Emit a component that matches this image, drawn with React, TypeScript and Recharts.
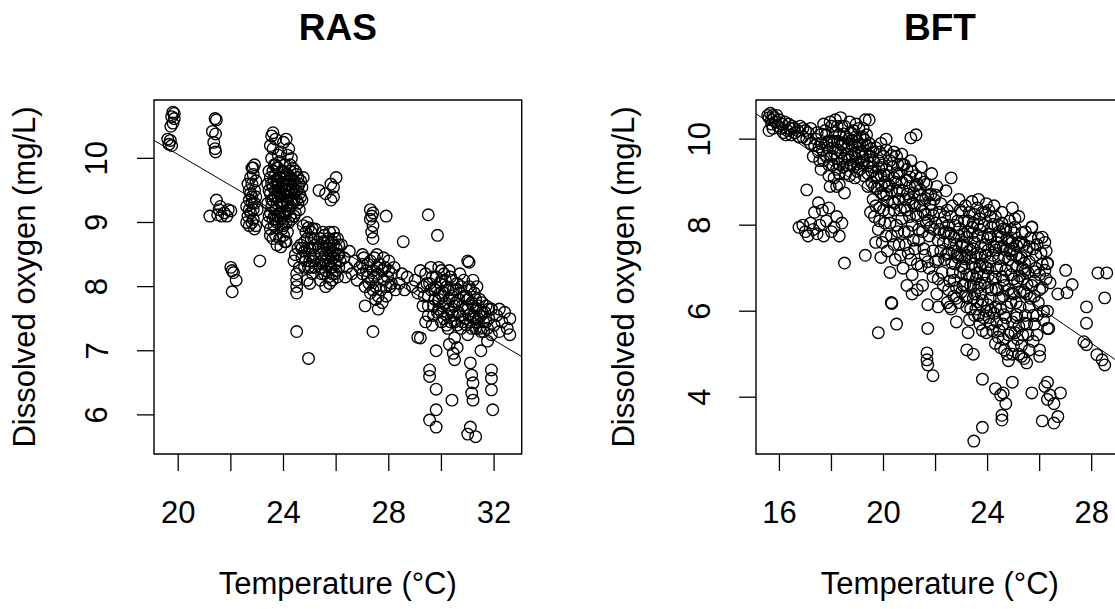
import React from "react";
import { ScatterChart, Scatter, XAxis, YAxis, ReferenceLine, ReferenceArea } from "recharts";

// ---------- RAS panel data: [temperature °C, dissolved oxygen mg/L] ----------
const RAS_POINTS: [number, number][] = [
  [19.6,10.3],[19.65,10.22],[19.7,10.28],[19.75,10.2],[19.8,10.72],[19.75,10.65],[19.85,10.62],[19.8,10.55],[19.72,10.5],[19.85,10.7],
  [21.4,10.62],[21.45,10.6],[21.3,10.42],[21.42,10.38],[21.35,10.25],[21.4,10.15],[21.42,10.1],
  [21.2,9.1],[21.45,9.35],[21.55,9.2],[21.75,9.15],[21.9,9.2],[21.65,9.1],[22.0,9.18],[21.5,9.12],[21.6,9.25],[21.85,9.1],
  [22.0,8.3],[22.05,8.25],[22.1,8.22],[22.2,8.1],[22.05,7.92],[23.1,8.4],
  [22.6,9.0],[22.65,9.1],[22.7,9.2],[22.8,9.3],[22.75,9.45],[22.8,9.6],[22.85,9.75],[22.8,9.85],[22.9,9.9],[22.75,9.15],[22.85,9.05],[22.95,8.95],[22.7,9.35],[22.9,9.5],[22.95,9.65],[23.0,9.2],[22.6,9.25],[22.9,8.9],
  [23.4,9.0],[23.4,9.3],[23.4,9.6],[23.45,9.8],[23.5,8.9],[23.5,9.15],[23.5,9.45],[23.5,9.7],[23.55,10.0],[23.6,9.05],[23.6,9.35],[23.6,9.55],[23.65,9.9],[23.7,8.8],[23.7,9.2],[23.7,9.5],[23.7,9.75],[23.75,9.0],[23.8,9.4],[23.8,9.6],[23.8,9.85],[23.85,8.75],[23.85,9.15],[23.9,9.3],[23.9,9.55],[23.9,9.7],[23.95,8.9],[24.0,9.1],[24.0,9.45],[24.0,9.6],[24.0,9.8],[24.05,8.7],[24.1,9.0],[24.1,9.35],[24.1,9.5],[24.1,9.7],[24.15,8.85],[24.2,9.2],[24.2,9.4],[24.2,9.6],[24.25,9.8],[24.3,9.05],[24.3,9.5],[24.35,9.3],[24.4,9.65],[24.4,9.45],[24.45,9.15],[24.5,9.5],[24.5,9.75],[24.55,9.3],[24.6,9.6],[24.65,9.4],[24.7,9.55],[24.75,9.7],[23.55,9.25],[23.65,8.95],[23.95,9.25],[24.25,9.25],[24.6,9.2],[23.75,9.65],[24.35,9.85],
  [23.5,10.2],[23.55,10.35],[23.6,10.4],[23.7,10.3],[23.6,10.15],[23.9,10.1],[24.0,10.25],[24.1,10.3],[24.15,10.05],[24.3,10.0],[24.2,10.15],[23.8,10.05],
  [23.6,8.75],[23.75,8.65],[23.9,8.62],[24.0,8.8],[24.1,8.7],[23.5,8.8],
  [24.4,8.4],[24.45,8.5],[24.5,8.0],[24.5,8.1],[24.5,8.2],[24.55,8.6],[24.6,8.3],[24.5,7.9],[24.7,8.45],[24.8,8.55],[24.8,8.7],[24.85,8.85],[24.9,9.0],[24.95,8.3],[25.0,8.4],[25.0,8.6],[25.05,8.75],[25.1,8.9],[25.1,8.2],[25.15,8.5],[25.2,8.65],[24.9,8.1],[25.0,8.05],[25.2,8.3],[24.75,8.95],[24.65,8.65],[24.95,8.92],
  [25.4,8.1],[25.4,8.3],[25.45,8.5],[25.5,8.7],[25.5,8.85],[25.55,8.2],[25.6,8.4],[25.65,8.6],[25.7,8.75],[25.75,8.05],[25.8,8.3],[25.8,8.5],[25.85,8.7],[25.9,8.85],[25.95,8.2],[26.0,8.4],[26.0,8.6],[26.05,8.75],[26.1,8.3],[26.1,8.5],[25.6,8.0],[25.85,8.1],[26.2,8.65],[25.35,8.6],[25.7,8.45],
  [25.35,9.5],[25.6,9.45],[26.0,9.7],[25.8,9.35],[25.9,9.55],[25.8,9.6],[25.9,9.4],
  [24.5,7.3],[24.95,6.88],
  [26.3,8.45],[26.4,8.3],[26.5,8.55],[26.6,8.2],[26.7,8.4],[26.35,8.15],
  [27.3,9.2],[27.35,9.1],[27.3,9.05],[27.4,8.95],[27.35,8.85],[27.4,8.75],[27.9,9.1],[27.4,9.15],
  [29.5,9.12],[29.85,8.8],[28.55,8.7],[31.0,8.4],[31.05,8.38],[27.4,7.3],
  [26.8,8.1],[26.9,8.3],[27.0,8.2],[27.05,8.45],[27.1,8.0],[27.2,8.15],[27.2,8.35],[27.3,7.9],[27.35,8.1],[27.4,8.25],[27.45,8.45],[27.5,7.8],[27.5,8.0],[27.6,8.2],[27.65,8.35],[27.7,7.95],[27.8,8.1],[27.85,8.3],[27.9,7.85],[27.95,8.15],[28.0,8.4],[28.05,8.0],[28.1,8.2],[28.2,8.3],[28.25,7.95],[27.1,7.7],[27.6,7.65],[27.0,8.5],[27.55,8.5],
  [28.4,8.05],[28.6,7.95],[28.7,8.15],[28.9,8.0],[28.5,8.2],
  [29.0,8.1],[29.1,7.9],[29.2,8.25],[29.3,7.7],[29.3,8.0],[29.4,8.2],[29.5,7.55],[29.5,7.85],[29.55,8.05],[29.6,8.3],[29.65,7.4],[29.7,7.7],[29.75,7.95],[29.8,8.15],[29.85,7.6],[29.9,7.8],[29.95,8.05],[30.0,7.45],[30.0,8.25],[30.05,7.7],[30.1,7.9],[30.15,8.1],[30.2,7.55],[30.2,8.0],[30.25,7.35],[30.3,7.8],[30.35,8.15],[30.4,7.6],[30.45,7.95],[30.5,7.2],[30.5,7.45],[30.55,7.75],[30.6,8.05],[30.65,7.6],[30.7,7.9],[30.75,7.35],[30.8,7.7],[30.85,8.1],[30.9,7.5],[30.95,7.85],[31.0,7.25],[31.0,7.65],[31.05,8.0],[31.1,7.45],[31.15,7.75],[31.2,7.55],[31.25,7.9],[31.3,7.35],[31.35,7.65],[31.4,7.5],[31.45,7.8],[31.5,7.3],[31.55,7.6],[31.6,7.45],[31.7,7.7],[31.8,7.5],[31.9,7.65],[32.0,7.4],[32.1,7.55],[32.2,7.3],[32.3,7.45],[32.4,7.6],[32.5,7.35],[32.6,7.5],[32.2,7.65],[31.9,7.25],[29.4,7.45],[30.3,7.1],[29.2,7.2],[31.75,7.15],
  [29.1,7.21],[29.8,7.0],[29.55,6.7],[29.55,6.6],[29.8,6.4],[29.8,6.08],[29.55,5.92],[29.8,5.81],[30.4,6.23],[30.5,6.86],[30.45,6.96],[31.1,6.81],[31.15,6.62],[31.2,6.5],[31.15,6.34],[31.2,6.23],[31.1,5.81],[31.0,5.7],[31.3,5.66],[31.9,6.7],[31.9,6.57],[31.9,6.39],[31.95,6.08],[30.6,7.05],[31.5,7.0],[32.6,7.25],
];

// additional readings in the densest RAS clusters
const RAS_DENSE: [number, number][] = [
  [23.45,9.1],[23.45,9.5],[23.55,9.6],[23.6,9.8],[23.65,9.1],[23.65,9.4],[23.7,9.05],[23.75,9.3],[23.75,9.85],[23.8,9.1],[23.8,9.5],[23.85,9.7],[23.85,9.95],[23.9,9.05],[23.9,9.4],[23.95,9.6],[23.95,9.8],[24.0,8.95],[24.0,9.3],[24.05,9.5],[24.05,9.7],[24.05,9.9],[24.1,9.15],[24.1,9.6],[24.15,9.4],[24.15,9.75],[24.2,9.0],[24.2,9.5],[24.25,9.65],[24.25,9.9],[24.3,9.35],[24.3,9.7],[24.35,9.55],[24.4,9.1],[24.4,9.35],[24.45,9.6],[24.45,9.8],[24.5,9.35],[24.55,9.55],[24.55,9.7],[24.6,9.45],[24.65,9.65],[24.7,9.35],[23.7,9.9],[23.55,9.35],[23.85,9.45],[24.15,9.3],[23.95,9.0],[24.25,9.1],[23.65,9.65],
  [24.85,8.4],[24.9,8.6],[24.9,8.75],[25.0,8.5],[25.05,8.3],[25.05,8.85],[25.1,8.6],[25.15,8.4],[25.15,8.75],[25.2,8.9],[24.8,8.3],[24.7,8.6],
  [25.45,8.2],[25.45,8.4],[25.5,8.6],[25.55,8.8],[25.6,8.5],[25.6,8.25],[25.65,8.7],[25.7,8.15],[25.7,8.35],[25.75,8.6],[25.75,8.85],[25.8,8.4],[25.85,8.55],[25.85,8.2],[25.9,8.45],[25.9,8.65],[25.95,8.35],[25.95,8.75],[26.0,8.25],[26.05,8.5],[26.05,8.15],[26.1,8.65],[26.15,8.4],[25.5,8.35],[25.4,8.75],
  [22.7,9.5],[22.75,9.7],[22.8,9.4],[22.85,9.2],[22.9,9.3],[22.65,9.6],[22.8,9.0],[22.95,9.4],[22.7,8.95],[22.85,9.85],
  [29.35,7.85],[29.45,8.05],[29.5,7.7],[29.6,7.95],[29.65,8.15],[29.7,7.55],[29.75,7.8],[29.8,8.0],[29.9,7.65],[29.95,7.9],[30.0,7.6],[30.0,8.1],[30.05,7.85],[30.1,7.5],[30.1,8.2],[30.15,7.75],[30.2,7.4],[30.25,7.95],[30.3,7.65],[30.35,7.45],[30.4,7.85],[30.4,8.1],[30.45,7.55],[30.5,7.7],[30.55,7.95],[30.6,7.4],[30.65,7.8],[30.7,7.55],[30.75,8.0],[30.8,7.45],[30.85,7.85],[30.9,7.65],[30.95,7.4],[31.0,7.8],[31.05,7.55],[31.1,7.95],[31.15,7.35],[31.2,7.7],[31.25,7.5],[31.3,7.8],[31.35,7.45],[31.4,7.7],[31.45,7.35],[31.5,7.55],[31.55,7.75],[31.6,7.3],[31.65,7.6],[31.7,7.45],[31.75,7.35],[31.8,7.65],[30.3,8.25],[29.9,8.3],[30.7,8.2],[31.2,8.1],[31.35,8.0],
  [27.0,8.35],[27.15,8.25],[27.25,8.05],[27.3,8.4],[27.45,8.15],[27.55,8.3],[27.6,7.85],[27.75,8.25],[27.8,8.45],[27.9,8.0],[28.0,8.25],[28.1,8.05],[27.4,7.95],[27.75,7.75],
];

// ---------- BFT panel data ----------
const BFT_POINTS: [number, number][] = [
  [15.55,10.55],[15.6,10.5],[15.65,10.6],[15.7,10.45],[15.75,10.55],[15.8,10.5],[15.7,10.35],[15.6,10.2],[15.85,10.4],[15.9,10.55],[16.0,10.45],[16.1,10.35],[16.2,10.4],[16.3,10.2],[16.25,10.1],[16.5,10.3],[16.6,10.15],[16.8,10.3],[17.0,10.2],[17.1,10.15],[16.9,10.05],[16.4,10.25],[15.95,10.3],
  [17.4,10.0],[17.5,9.7],[17.6,9.9],[17.7,9.5],[17.8,10.1],[17.85,9.8],[17.9,9.4],[18.0,10.3],[18.0,9.6],[18.1,9.95],[18.15,10.45],[18.2,9.3],[18.25,9.75],[18.3,10.1],[18.35,10.5],[18.4,9.5],[18.45,9.9],[18.5,10.3],[18.55,9.2],[18.6,9.65],[18.65,10.0],[18.7,10.4],[18.75,9.4],[18.8,9.85],[18.85,10.2],[18.9,9.1],[18.95,9.55],[19.0,9.95],[19.05,10.25],[19.1,9.3],[19.15,9.7],[19.2,10.05],[19.3,10.45],[19.45,10.45],[19.25,9.5],[19.35,9.85],[19.4,9.2],[17.3,9.6],[17.2,9.9],[17.7,10.35],[18.1,9.1],[17.95,8.9],[17.6,9.3],[18.3,8.95],[18.5,8.75],
  [16.75,7.95],[16.9,8.0],[17.0,7.85],[17.1,7.75],[17.2,8.05],[17.3,7.9],[17.45,7.8],[17.55,8.0],[17.7,7.75],[17.8,8.1],[18.0,7.85],[18.1,7.95],[18.2,8.2],[17.05,8.82],[17.5,8.52],[17.35,8.3],[17.65,8.35],[18.3,7.75],[18.5,7.12],[19.3,7.3],[18.4,8.05],[17.9,8.4],
  [19.5,9.6],[19.55,9.0],[19.6,8.6],[19.6,9.35],[19.65,8.2],[19.7,9.8],[19.75,8.85],[19.8,7.9],[19.8,9.5],[19.85,8.4],[19.9,9.15],[19.95,7.6],[20.0,8.7],[20.0,9.6],[20.05,8.05],[20.1,9.3],[20.15,7.4],[20.15,8.9],[20.2,8.3],[20.25,9.5],[20.3,7.75],[20.35,8.55],[20.4,9.1],[20.45,7.2],[20.5,8.0],[20.5,8.8],[20.55,9.4],[20.6,7.55],[20.65,8.35],[20.7,9.0],[20.75,7.0],[20.8,7.85],[20.85,8.6],[20.9,9.3],[20.95,7.35],[21.0,8.2],[21.0,8.9],[21.05,9.5],[21.1,6.85],[21.15,7.65],[21.2,8.45],[21.25,9.15],[21.3,7.1],[21.35,7.9],[21.4,8.7],[21.45,9.35],[21.5,6.6],[21.55,7.45],[21.6,8.25],[21.65,8.95],[21.7,7.15],[21.75,7.75],[21.8,8.5],[21.85,9.2],[21.9,6.8],[21.95,7.9],[22.0,8.7],[19.4,8.9],[19.5,8.3],[19.7,7.6],[20.25,6.9],[19.9,7.25],[22.6,9.1],[21.05,10.03],[21.25,10.1],[20.7,9.65],[20.4,9.7],[19.9,9.9],[20.1,10.0],
  [22.05,6.4],[22.1,7.2],[22.15,7.9],[22.2,8.5],[22.25,6.9],[22.3,7.6],[22.35,8.2],[22.4,8.8],[22.45,6.2],[22.5,7.35],[22.5,8.0],
  [22.55,6.7],[22.6,7.8],[22.65,8.45],[22.7,6.35],[22.75,7.1],[22.8,7.55],[22.85,8.1],[22.9,8.6],[22.95,6.9],[23.0,7.3],[23.0,8.3],[22.6,6.05],[22.9,6.2],
  [23.05,6.6],[23.1,7.0],[23.1,7.8],[23.15,8.45],[23.2,6.1],[23.2,7.5],[23.25,8.1],[23.3,5.8],[23.3,6.85],[23.35,7.25],[23.4,7.95],[23.4,8.55],[23.45,6.3],[23.5,5.9],[23.5,7.6],[23.5,8.25],[23.25,5.5],[23.45,6.6],
  [23.55,6.05],[23.6,6.9],[23.6,7.35],[23.65,8.6],[23.7,5.7],[23.7,7.9],[23.75,6.4],[23.8,7.1],[23.8,8.3],[23.85,5.85],[23.9,6.65],[23.9,7.55],[23.95,8.5],[24.0,6.15],[24.0,7.0],[23.95,5.5],[23.75,6.15],
  [24.05,7.8],[24.1,5.7],[24.1,8.2],[24.15,6.5],[24.2,7.3],[24.25,5.95],[24.25,8.45],[24.3,6.8],[24.35,7.6],[24.4,5.4],[24.4,8.0],[24.45,6.3],[24.5,7.05],[24.5,5.15],[24.45,7.85],[24.3,5.25],
  [24.55,8.3],[24.6,5.7],[24.6,7.5],[24.65,6.6],[24.7,7.9],[24.75,5.0],[24.75,6.1],[24.8,7.2],[24.85,8.1],[24.9,5.5],[24.9,6.85],[24.95,7.6],[25.0,5.2],[25.0,6.4],[24.8,4.85],[24.95,8.4],
  [25.05,7.95],[25.1,5.85],[25.1,7.3],[25.15,6.7],[25.2,5.0],[25.2,8.2],[25.25,6.1],[25.3,7.6],[25.35,5.45],[25.35,7.0],[25.4,6.45],[25.45,7.85],[25.5,4.8],[25.5,5.7],[25.4,4.9],
  [25.55,6.9],[25.6,7.5],[25.65,6.3],[25.7,7.95],[25.75,5.3],[25.8,6.7],[25.85,7.3],[25.9,5.9],[25.95,7.7],[26.0,6.5],[26.0,5.1],[26.1,7.1],[26.15,6.0],[26.2,7.6],[26.25,6.75],[26.3,7.1],[26.35,5.6],[26.3,6.0],
  [19.8,5.5],[20.3,6.2],[20.32,6.18],[20.5,5.7],[21.7,5.6],[21.67,5.03],[21.67,4.87],[21.7,4.75],[21.9,4.5],[21.3,6.5],[21.7,6.15],[22.1,6.1],[22.55,6.1],[22.8,6.3],[22.8,5.75],[23.2,5.1],[23.45,5.0],[20.9,6.6],[21.1,6.4],
  [23.8,4.42],[24.3,4.2],[24.5,4.05],[24.6,4.1],[24.7,3.85],[24.95,4.35],[24.55,3.58],[24.55,3.47],[23.8,3.3],[23.47,2.98],[25.7,4.1],[26.2,4.25],[26.3,3.95],[26.55,3.85],[26.8,4.1],[26.3,4.35],[26.1,3.45],[26.55,3.4],[26.7,3.55],[26.4,4.05],
  [27.05,6.43],[27.25,6.62],[27.8,6.1],[28.5,6.31],[27.8,5.72],[28.24,6.89],[28.58,6.89],[27.7,5.29],[27.8,5.22],[28.2,4.99],[28.4,4.87],[28.5,4.75],[26.3,5.6],[25.8,5.7],[26.4,6.66],[26.3,7.12],[26.1,7.72],[25.7,7.96],[27.0,6.95],[26.7,6.4],
];

// additional readings in the densest BFT band
const BFT_DENSE: [number, number][] = [
  [17.35,9.85],[17.45,10.15],[17.55,9.5],[17.65,9.75],[17.75,10.2],[17.8,9.6],[17.9,9.95],[17.95,10.4],[18.05,9.4],[18.05,9.8],[18.15,10.15],[18.2,9.55],[18.25,9.95],[18.3,9.2],[18.35,9.7],[18.4,10.3],[18.45,9.35],[18.5,9.55],[18.55,10.05],[18.6,9.4],[18.65,9.85],[18.7,9.15],[18.75,10.15],[18.8,9.6],[18.85,9.35],[18.9,9.85],[18.95,10.35],[19.0,9.25],[19.05,9.7],[19.1,10.05],[19.15,9.45],[19.2,9.85],[19.25,9.15],[19.3,9.65],[19.35,10.1],[19.45,9.45],[19.45,9.9],[17.9,9.15],[18.2,8.9],
  [16.05,10.25],[16.15,10.15],[16.35,10.35],[16.45,10.1],[16.55,10.25],[16.7,10.2],[16.75,10.05],[16.9,10.25],[17.05,10.0],[17.2,10.25],[15.75,10.25],
  [19.55,9.25],[19.6,9.7],[19.65,8.9],[19.7,8.45],[19.75,9.15],[19.85,9.7],[19.85,8.1],[19.9,8.75],[19.95,9.4],[20.0,8.35],[20.05,9.0],[20.1,7.75],[20.1,9.75],[20.15,8.55],[20.2,9.15],[20.25,8.05],[20.3,8.8],[20.35,9.35],[20.4,7.55],[20.4,8.35],[20.45,9.0],[20.5,9.6],[20.55,7.85],[20.6,8.6],[20.6,9.2],[20.65,7.3],[20.7,8.15],[20.75,8.8],[20.8,9.4],[20.85,7.55],[20.9,8.35],[20.9,9.05],[20.95,7.85],[21.0,8.6],[21.05,7.2],[21.1,8.0],[21.1,9.25],[21.15,8.75],[21.2,7.45],[21.25,8.25],[21.3,8.95],[21.35,7.65],[21.4,8.45],[21.4,9.1],[21.45,7.05],[21.5,7.85],[21.5,8.6],[21.55,9.0],[21.6,7.3],[21.65,8.05],[21.7,8.7],[21.75,7.0],[21.8,7.95],[21.85,8.35],[21.9,7.4],[21.95,8.6],[22.0,7.15],[22.0,8.05],[22.05,8.9],[22.1,7.65],[22.15,8.3],[22.1,6.75],
  [22.2,7.4],[22.25,8.05],[22.3,6.6],[22.35,7.2],[22.4,7.85],[22.45,8.35],[22.5,6.5],[22.55,7.6],[22.6,8.2],[22.65,6.9],[22.7,7.4],[22.75,8.0],[22.8,6.55],[22.85,7.25],[22.9,7.75],[22.95,8.35],[23.0,6.45],[23.0,7.05],[23.05,7.6],[23.1,8.1],[23.15,6.35],[23.2,6.85],[23.2,7.3],[23.25,7.85],[23.3,8.3],[23.35,6.05],[23.35,6.6],[23.4,7.1],[23.45,7.45],[23.45,8.05],[23.5,6.4],[23.55,6.75],[23.55,7.25],[23.6,7.75],[23.6,8.4],[23.65,5.9],[23.65,6.55],[23.7,7.05],[23.7,8.15],[23.75,7.5],[23.8,5.55],[23.8,6.25],[23.85,6.85],[23.85,8.0],[23.9,7.3],[23.9,8.3],[23.95,6.0],[24.0,6.55],[24.0,7.7],[24.05,8.35],[24.05,5.85],[24.1,6.3],[24.1,7.15],[24.15,7.95],[24.2,5.55],[24.2,6.75],[24.25,7.5],[24.3,6.1],[24.3,8.2],[24.35,5.75],[24.35,7.0],[24.4,6.5],[24.4,7.75],[24.45,5.55],[24.5,6.05],[24.5,7.5],[24.55,6.8],[24.55,8.05],[24.6,5.35],[24.6,6.35],[24.65,7.25],[24.7,5.85],[24.7,6.95],[24.75,7.7],[24.8,5.45],[24.8,6.5],[24.85,7.4],[24.9,6.2],[24.9,7.9],[24.95,5.75],[24.95,7.05],[25.0,6.75],[25.0,7.45],[25.05,5.5],[25.05,8.15],[25.1,6.2],[25.15,7.05],[25.2,5.65],[25.2,7.6],[25.25,6.45],[25.3,5.2],[25.3,7.25],[25.35,6.75],[25.4,7.55],[25.45,5.9],[25.45,6.95],[25.5,6.4],[25.5,7.4],[25.55,5.45],[25.6,6.1],[25.6,7.15],[25.65,7.7],[25.7,6.6],[25.75,5.9],[25.75,7.45],[25.8,6.35],[25.85,7.0],[25.9,7.55],[25.95,6.2],[26.0,6.85],[26.05,7.35],[26.1,6.55],[26.15,5.8],[26.2,6.95],[26.25,7.4],[25.3,4.95],[25.15,5.35],[24.95,5.0],[24.65,5.1],[25.6,5.1],[25.9,5.45],[26.0,4.95],
];

// further readings where the BFT circles merge into solid black
const BFT_CORE: [number, number][] = [
  [18.12,9.68],[18.28,9.42],[18.38,9.88],[18.48,10.12],[18.58,9.78],[18.68,9.52],[18.78,9.98],[18.88,9.68],[18.98,9.42],[19.08,9.88],[19.18,9.58],[19.28,9.98],[19.38,9.38],[19.52,9.78],[19.62,9.48],[19.72,9.12],[19.82,9.32],[19.92,8.92],[20.02,9.18],[20.12,8.72],[20.22,8.92],[20.32,9.62],[20.42,8.52],[20.52,9.22],[20.62,8.82],[20.72,9.42],[20.82,8.42],[20.92,8.72],[21.02,9.12],[21.12,8.52],[21.22,8.92],[21.32,8.22],[21.42,8.82],[21.52,8.32],[21.62,8.62],[21.72,8.12],[21.82,8.72],[21.92,8.22],[18.92,10.05],[19.22,10.25],[18.22,10.3],[17.82,9.92],[17.62,10.12],[17.52,9.82],[18.02,9.95],
  [22.32,7.82],[22.42,7.32],[22.52,7.82],[22.62,7.12],[22.72,7.72],[22.82,7.32],[22.92,7.92],[23.02,7.52],[23.12,7.22],[23.22,7.72],[23.32,7.42],[23.42,7.82],[23.52,7.02],[23.62,8.02],[23.72,7.32],[23.82,7.72],[23.92,7.02],[24.02,7.42],[24.12,7.72],[24.22,8.02],[24.32,7.42],[24.42,7.22],[24.52,7.72],[24.62,7.92],[24.72,7.42],[24.82,7.62],[24.92,7.32],[25.02,7.82],[25.12,7.52],[25.22,7.22],[25.32,7.82],[25.42,7.12],[23.12,6.62],[23.42,6.82],[23.72,6.62],[24.02,6.82],[24.32,6.52],[24.62,6.72],[24.92,6.42],[25.22,6.82],[25.52,6.62],[25.82,6.92],[22.72,6.72],[23.22,6.32],[23.62,6.22],[24.12,6.02],[24.62,5.92],[25.12,5.92],[25.42,5.72],
];

// ---------- axes ----------
const RAS_X_DOMAIN: [number, number] = [19.08, 33.05];
const RAS_Y_DOMAIN: [number, number] = [5.39, 10.91];
const RAS_X_TICKS = [20, 22, 24, 26, 28, 30, 32];
const RAS_X_LABELS = [20, 24, 28, 32];
const RAS_Y_TICKS = [6, 7, 8, 9, 10];
const RAS_FIT: [number, number][] = [[19.08, 10.28], [33.05, 6.91]];

const BFT_X_DOMAIN: [number, number] = [15.1, 29.23];
const BFT_Y_DOMAIN: [number, number] = [2.68, 10.91];
const BFT_X_TICKS = [16, 18, 20, 22, 24, 26, 28];
const BFT_X_LABELS = [16, 20, 24, 28];
const BFT_Y_TICKS = [4, 6, 8, 10];
const BFT_FIT: [number, number][] = [[15.1, 10.59], [29.23, 4.74]];

const TITLES = ["RAS", "BFT"];
const X_TITLE = "Temperature (°C)";
const Y_TITLE = "Dissolved oxygen (mg/L)";

const FONT = '"Liberation Sans", Arial, Helvetica, sans-serif';
const FS = 31;
const CHART_H = 609;
const PLOT_TOP = 100;
const PLOT_BOTTOM = 454;
const AXIS_W = 60;

type PanelProps = {
  points: [number, number][];
  xDomain: [number, number];
  yDomain: [number, number];
  xTicks: number[];
  xLabels: number[];
  yTicks: number[];
  fit: [number, number][];
  left: number;
  width: number;
  plotLeft: number;
  plotRight: number;
  yLabelBaseline: number;
};

function Panel(p: PanelProps) {
  const data = p.points.map(([x, y]) => ({ x, y }));
  const marginLeft = p.plotLeft - p.left - AXIS_W;
  const marginRight = p.left + p.width - p.plotRight;
  const yBase = p.yLabelBaseline - p.left;
  const XTick = (props: any) => {
    const v = props.payload.value;
    if (!p.xLabels.includes(v)) return <g />;
    return (
      <text x={props.x} y={523} textAnchor="middle" fontSize={FS} fontFamily={FONT} fill="#000">
        {v}
      </text>
    );
  };
  const YTick = (props: any) => {
    const v = props.payload.value;
    return (
      <text
        x={yBase}
        y={props.y}
        transform={`rotate(-90, ${yBase}, ${props.y})`}
        textAnchor="middle"
        fontSize={FS}
        fontFamily={FONT}
        fill="#000"
      >
        {v}
      </text>
    );
  };
  return (
    <div style={{ position: "absolute", left: p.left, top: 0 }}>
      <ScatterChart
        width={p.width}
        height={CHART_H}
        margin={{ top: PLOT_TOP, bottom: CHART_H - PLOT_BOTTOM - AXIS_W, left: marginLeft, right: marginRight }}
      >
        <XAxis
          type="number"
          dataKey="x"
          domain={p.xDomain}
          ticks={p.xTicks}
          allowDataOverflow
          height={AXIS_W}
          axisLine={false}
          tickLine={{ stroke: "#000", strokeWidth: 1.3 }}
          tickSize={17}
          tick={XTick}
          interval={0}
        />
        <YAxis
          type="number"
          dataKey="y"
          domain={p.yDomain}
          ticks={p.yTicks}
          allowDataOverflow
          width={AXIS_W}
          axisLine={false}
          tickLine={{ stroke: "#000", strokeWidth: 1.3 }}
          tickSize={17}
          tick={YTick}
          interval={0}
        />
        <Scatter
          data={data}
          isAnimationActive={false}
          shape={(s: any) => (
            <circle cx={s.cx} cy={s.cy} r={5.8} fill="none" stroke="#000" strokeWidth={1.35} />
          )}
        />
        <ReferenceLine
          segment={[
            { x: p.fit[0][0], y: p.fit[0][1] },
            { x: p.fit[1][0], y: p.fit[1][1] },
          ]}
          stroke="#000"
          strokeWidth={1}
          ifOverflow="hidden"
        />
        <ReferenceArea
          x1={p.xDomain[0]}
          x2={p.xDomain[1]}
          y1={p.yDomain[0]}
          y2={p.yDomain[1]}
          fill="none"
          fillOpacity={0}
          stroke="#000"
          strokeWidth={1.4}
          ifOverflow="visible"
        />
      </ScatterChart>
    </div>
  );
}

export default function App() {
  return (
    <div
      style={{
        position: "absolute",
        left: 0,
        top: 0,
        width: 1115,
        height: 609,
        overflow: "hidden",
        background: "#fff",
      }}
    >
      <Panel
        points={[...RAS_POINTS, ...RAS_DENSE]}
        xDomain={RAS_X_DOMAIN}
        yDomain={RAS_Y_DOMAIN}
        xTicks={RAS_X_TICKS}
        xLabels={RAS_X_LABELS}
        yTicks={RAS_Y_TICKS}
        fit={RAS_FIT}
        left={0}
        width={560}
        plotLeft={154}
        plotRight={521.7}
        yLabelBaseline={107.5}
      />
      <Panel
        points={[...BFT_POINTS, ...BFT_DENSE, ...BFT_CORE]}
        xDomain={BFT_X_DOMAIN}
        yDomain={BFT_Y_DOMAIN}
        xTicks={BFT_X_TICKS}
        xLabels={BFT_X_LABELS}
        yTicks={BFT_Y_TICKS}
        fit={BFT_FIT}
        left={560}
        width={620}
        plotLeft={756}
        plotRight={1123.7}
        yLabelBaseline={710}
      />
      <svg
        width={1180}
        height={609}
        style={{ position: "absolute", left: 0, top: 0, pointerEvents: "none" }}
      >
        <text x={337.8} y={40} textAnchor="middle" fontSize={37} fontWeight="bold" fontFamily={FONT} fill="#000">
          {TITLES[0]}
        </text>
        <text x={939.9} y={40} textAnchor="middle" fontSize={37} fontWeight="bold" fontFamily={FONT} fill="#000">
          {TITLES[1]}
        </text>
        <text x={337.8} y={594} textAnchor="middle" fontSize={FS} fontFamily={FONT} fill="#000">
          {X_TITLE}
        </text>
        <text x={939.9} y={594} textAnchor="middle" fontSize={FS} fontFamily={FONT} fill="#000">
          {X_TITLE}
        </text>
        <text x={35.3} y={277} transform="rotate(-90, 35.3, 277)" textAnchor="middle" fontSize={FS} fontFamily={FONT} fill="#000">
          {Y_TITLE}
        </text>
        <text x={634.3} y={277} transform="rotate(-90, 634.3, 277)" textAnchor="middle" fontSize={FS} fontFamily={FONT} fill="#000">
          {Y_TITLE}
        </text>
      </svg>
    </div>
  );
}
